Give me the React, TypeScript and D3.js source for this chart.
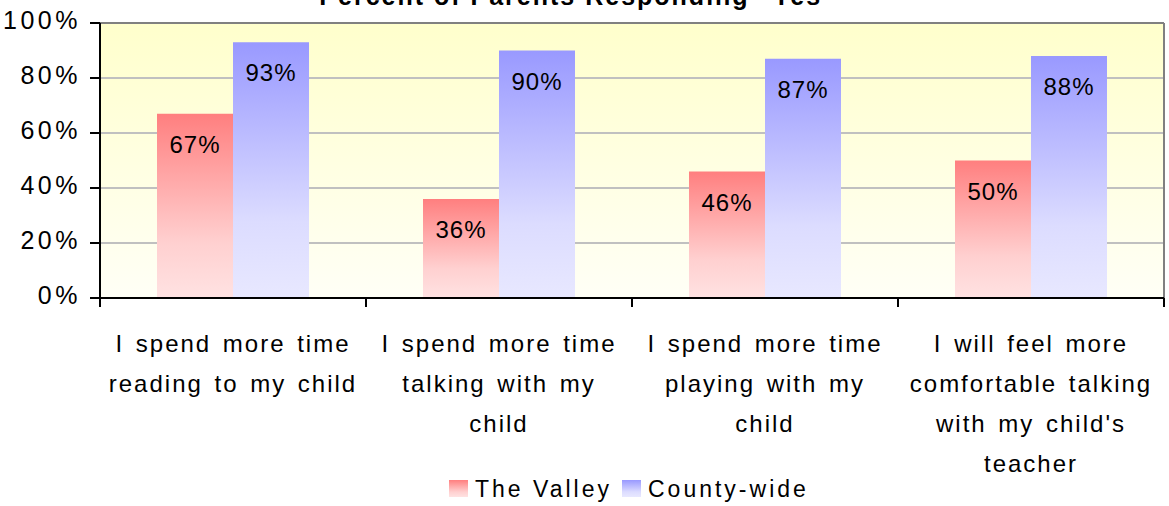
import React from "react";
import * as d3 from "d3";

const title = "Percent of Parents Responding \u201CYes\u201D";
const categories: string[][] = [
  ["I spend more time", "reading to my child"],
  ["I spend more time", "talking with my", "child"],
  ["I spend more time", "playing with my", "child"],
  ["I will feel more", "comfortable talking", "with my child's", "teacher"],
];
const seriesNames = ["The Valley", "County-wide"];
const valley = [67, 36, 46, 50];
const county = [93, 90, 87, 88];
const yTicks = [0, 20, 40, 60, 80, 100];

const W = 1169;
const H = 506;
const FONT = "'Liberation Sans', Arial, sans-serif";

export default function App() {
  const left = 100, right = 1164, top = 23, bottom = 298;
  const x = d3.scaleBand<number>().domain(categories.map((_, i) => i)).range([left, right]).paddingInner(0).paddingOuter(0);
  const xs = d3.scaleBand<number>().domain([0, 1]).range([0, x.bandwidth()]).paddingInner(0).paddingOuter(0.75);
  const y = d3.scaleLinear().domain([0, 100]).range([bottom, top]);
  const series = [valley, county];
  const fills = ["url(#gRed)", "url(#gBlue)"];
  const fmt = (v: number) => `${v}%`;

  return (
    <svg width={W} height={H} style={{ position: "absolute", left: 0, top: 0, fontFamily: FONT }}>
      <defs>
        <linearGradient id="gBg" x1="0" y1="0" x2="0" y2="1">
          <stop offset="0" stopColor="#FFFFCC" />
          <stop offset="1" stopColor="#FFFFF6" />
        </linearGradient>
        <linearGradient id="gRed" x1="0" y1="0" x2="0" y2="1">
          <stop offset="0" stopColor="#FF7F7F" />
          <stop offset="0.7" stopColor="#FFD0D0" />
          <stop offset="1" stopColor="#FFE2E2" />
        </linearGradient>
        <linearGradient id="gBlue" x1="0" y1="0" x2="0" y2="1">
          <stop offset="0" stopColor="#9999FF" />
          <stop offset="0.7" stopColor="#DCDCFF" />
          <stop offset="1" stopColor="#E8E8FF" />
        </linearGradient>
      </defs>
      <text x={578} y={5} textAnchor="middle" fontWeight="bold" fontSize={25} letterSpacing={2}>
        {title}
      </text>
      <rect x={left} y={top} width={right - left} height={bottom - top} fill="url(#gBg)" />
      {yTicks.filter((t) => t > 0 && t < 100).map((t) => (
        <line key={t} x1={left} x2={right} y1={y(t)} y2={y(t)} stroke="#C0C0C0" strokeWidth={2} />
      ))}
      <line x1={left} x2={right} y1={top} y2={top} stroke="#808080" strokeWidth={2} />
      <line x1={right} x2={right} y1={top} y2={bottom} stroke="#808080" strokeWidth={2} />
      {categories.map((_, i) =>
        series.map((s, j) => {
          const bx = (x(i) as number) + (xs(j) as number);
          return (
            <rect key={`${i}-${j}`} x={bx} y={y(s[i])} width={xs.bandwidth()} height={bottom - y(s[i])} fill={fills[j]} />
          );
        })
      )}
      {categories.map((_, i) =>
        series.map((s, j) => {
          const bx = (x(i) as number) + (xs(j) as number) + xs.bandwidth() / 2;
          return (
            <text key={`l${i}-${j}`} x={bx} y={y(s[i]) + 39} textAnchor="middle" fontSize={24} letterSpacing={1}>
              {fmt(s[i])}
            </text>
          );
        })
      )}
      <line x1={left} x2={left} y1={top} y2={bottom + 8} stroke="#000" strokeWidth={2} />
      <line x1={left - 10} x2={right} y1={bottom} y2={bottom} stroke="#000" strokeWidth={2} />
      {yTicks.map((t) => (
        <g key={t}>
          <line x1={left - 10} x2={left} y1={y(t)} y2={y(t)} stroke="#000" strokeWidth={2} />
          <text x={81} y={y(t) + 6} textAnchor="end" fontSize={25} letterSpacing={3.5}>
            {fmt(t)}
          </text>
        </g>
      ))}
      {[...categories.map((_, i) => x(i) as number), right].map((tx, i) => (
        <line key={i} x1={tx} x2={tx} y1={bottom} y2={bottom + 9} stroke="#000" strokeWidth={2} />
      ))}
      {categories.map((lines, i) => (
        <text key={i} textAnchor="middle" fontSize={24} letterSpacing={2} wordSpacing={3}>
          {lines.map((ln, k) => (
            <tspan key={k} x={(x(i) as number) + x.bandwidth() / 2} y={352 + k * 40}>
              {ln}
            </tspan>
          ))}
        </text>
      ))}
      {seriesNames.map((n, j) => {
        const lx = [449, 622][j];
        return (
          <g key={n}>
            <rect x={lx} y={480} width={19} height={17} fill={fills[j]} />
            <text x={lx + 26} y={497} fontSize={23} letterSpacing={3}>
              {n}
            </text>
          </g>
        );
      })}
    </svg>
  );
}
